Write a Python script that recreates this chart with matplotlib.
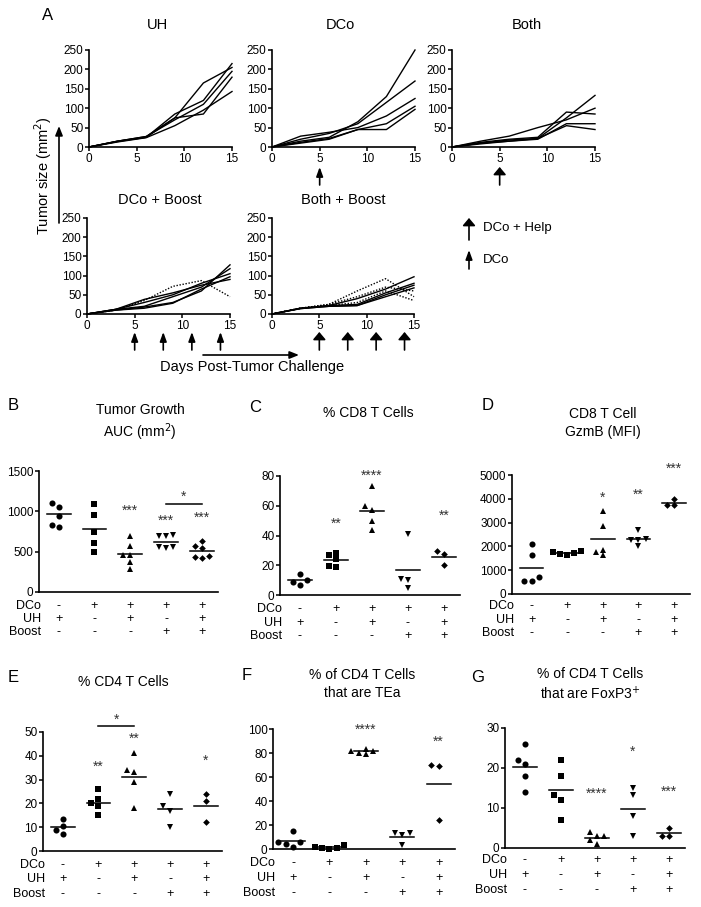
import matplotlib
matplotlib.use('Agg')
import matplotlib.pyplot as plt
from matplotlib.patches import FancyArrowPatch

plt.rcParams['font.family'] = ['Liberation Sans', 'DejaVu Sans']
plt.rcParams['axes.linewidth'] = 1.2

# ---- panel A: tumor growth curves ----
days = [0, 3, 6, 9, 12, 15]
uh_curves = [
    [0, 15, 27, 75, 165, 205],
    [0, 15, 25, 85, 120, 215],
    [0, 15, 27, 70, 110, 195],
    [0, 14, 25, 75, 85, 180],
    [0, 13, 24, 55, 95, 143],
]
dco_curves = [
    [0, 15, 25, 65, 130, 250],
    [0, 20, 35, 60, 115, 170],
    [0, 28, 38, 50, 80, 125],
    [0, 10, 20, 45, 60, 105],
    [0, 12, 22, 45, 45, 97],
]
both_curves = [
    [0, 15, 28, 50, 70, 100],
    [0, 12, 20, 25, 90, 85],
    [0, 10, 18, 22, 75, 133],
    [0, 10, 15, 20, 60, 60],
    [0, 8, 15, 22, 55, 45],
]
dco_boost_solid = [
    [0, 12, 38, 55, 75, 90],
    [0, 12, 30, 50, 80, 105],
    [0, 10, 18, 30, 60, 128],
    [0, 10, 15, 28, 65, 97],
    [0, 12, 20, 45, 70, 118],
]
dco_boost_dotted = [
    [0, 10, 35, 72, 87, 45],
]
both_boost_solid = [
    [0, 15, 22, 40, 65, 97],
    [0, 15, 22, 25, 55, 80],
    [0, 14, 20, 22, 50, 75],
    [0, 14, 20, 22, 45, 68],
]
both_boost_dotted = [
    [0, 15, 25, 60, 92, 45],
    [0, 15, 25, 45, 70, 60],
    [0, 15, 22, 30, 60, 35],
]
dco_days = [5]
both_days = [5]
dco_boost_days = [5, 8, 11, 14]
both_boost_days = [5, 8, 11, 14]

# ---- panels B-G: scatter data ----
dco_row = ['-', '+', '+', '+', '+']
uh_row = ['+', '-', '+', '-', '+']
boost_row = ['-', '-', '-', '+', '+']

auc = [[1100, 1050, 940, 800, 830],
       [1090, 960, 750, 610, 500],
       [700, 565, 460, 460, 370, 280],
       [710, 690, 690, 560, 540, 560],
       [570, 545, 630, 435, 420, 450]]
auc_means = [965, 782, 472, 625, 508]
auc_stars = [None, None, ('***', 1012), ('***', 888), ('***', 917)]

cd8 = [[10, 14, 7, 8.5],
       [27, 28.5, 24, 19, 19.5],
       [73, 60, 57, 50, 44],
       [41, 11, 10, 5],
       [29.5, 27.5, 20.5]]
cd8_means = [9.9, 23.6, 56.8, 16.8, 25.8]
cd8_stars = [None, ('**', 47.6), ('****', 80), None, ('**', 53)]

gzmb = [[2100, 1620, 700, 550, 560],
        [1820, 1720, 1650, 1700, 1760],
        [3480, 2860, 1850, 1620, 1780],
        [2680, 2300, 2280, 2280, 2020],
        [3990, 3760, 3760]]
gzmb_means = [1106, 1730, 2318, 2312, 3837]
gzmb_stars = [None, None, ('*', 4060), ('**', 4160), ('***', 5280)]

cd4 = [[13.3, 10.5, 9, 7],
       [26, 22, 20, 19, 15],
       [41, 34, 33, 29, 18],
       [24, 19, 17, 10],
       [24, 21, 12]]
cd4_means = [10, 20.3, 31, 17.5, 19]
cd4_stars = [None, ('**', 35.3), ('**', 47.2), None, ('*', 38)]

tea = [[15, 5.5, 5.5, 4, 1.5],
       [3.3, 0.5, 0.3, 2, 1],
       [83.5, 82, 79, 82, 80],
       [13, 11.5, 13, 3],
       [70, 69, 24]]
tea_means = [6.3, 1.4, 81.3, 10, 54.3]
tea_stars = [None, None, ('****', 99.4), None, ('**', 89)]

foxp3 = [[26, 22, 21, 18, 14],
         [22, 18, 13.3, 12, 7],
         [4, 3, 3, 2, 1],
         [15, 13.2, 8, 3],
         [5, 3, 3]]
foxp3_means = [20.2, 14.5, 2.6, 9.8, 3.7]
foxp3_stars = [None, None, ('****', 13.5), ('*', 24), ('***', 14)]

markers = ['o', 's', '^', 'v', 'D']
msizes = [4.4, 4.0, 5.0, 5.0, 3.4]

W, H = 701, 907
fig = plt.figure(figsize=(W / 100, H / 100), dpi=100)


def px_axes(l, t, r, b):
    return fig.add_axes([l / W, 1 - b / H, (r - l) / W, (b - t) / H])


def ftext(x, y, s, **kw):
    fig.text(x / W, 1 - y / H, s, **kw)


def style(ax):
    ax.spines['top'].set_visible(False)
    ax.spines['right'].set_visible(False)
    ax.tick_params(direction='out', length=3, width=1.1, labelsize=8.5, pad=1)


def arrow_under(ax, xs, y0, y1, help_style):
    if help_style:
        st = '-|>,head_length=0.45,head_width=0.38'
    else:
        st = '-|>,head_length=0.55,head_width=0.2'
    for d in xs:
        ax.annotate('', xy=(d, H - y1), xytext=(d, H - y0),
                    xycoords=('data', 'figure pixels'),
                    textcoords=('data', 'figure pixels'),
                    arrowprops=dict(arrowstyle=st, color='k', lw=1.2,
                                    shrinkA=0, shrinkB=0, mutation_scale=10),
                    annotation_clip=False)


def growth(box, solid, dotted, title, tx, ty):
    ax = px_axes(*box)
    for c in solid:
        ax.plot(days, c, color='k', lw=1.0, clip_on=False)
    for c in dotted:
        ax.plot(days, c, color='k', lw=1.0, ls=(0, (1, 1.2)), clip_on=False)
    ax.set_xlim(0, 15)
    ax.set_ylim(0, 250)
    ax.set_xticks([0, 5, 10, 15])
    ax.set_yticks([0, 50, 100, 150, 200, 250])
    style(ax)
    ftext(tx, ty, title, ha='center', va='center', fontsize=10.5)
    return ax


growth((89, 50, 232, 147), uh_curves, [], 'UH', 158, 25)
ax_dco = growth((272, 50, 415, 147), dco_curves, [], 'DCo', 340, 25)
ax_both = growth((452, 50, 595, 147), both_curves, [], 'Both', 527, 25)
ax_db = growth((87, 218, 230, 314), dco_boost_solid, dco_boost_dotted, 'DCo + Boost', 160, 200)
ax_bb = growth((272, 218, 414, 314), both_boost_solid, both_boost_dotted, 'Both + Boost', 343, 200)

arrow_under(ax_dco, dco_days, 185, 167, False)
arrow_under(ax_both, both_days, 185, 167, True)
arrow_under(ax_db, dco_boost_days, 350, 332, False)
arrow_under(ax_bb, both_boost_days, 350, 332, True)

ftext(48, 15, 'A', ha='center', va='center', fontsize=12)
ftext(43, 176, 'Tumor size (mm$^2$)', rotation=90, ha='center', va='center', fontsize=10.5)
ftext(252, 367, 'Days Post-Tumor Challenge', ha='center', va='center', fontsize=10.5)


def fig_arrow(x0, y0, x1, y1, st):
    fig.add_artist(FancyArrowPatch((x0 / W, 1 - y0 / H), (x1 / W, 1 - y1 / H),
                                   transform=fig.transFigure, arrowstyle=st,
                                   color='k', lw=1.2, mutation_scale=10,
                                   shrinkA=0, shrinkB=0))


fig_arrow(59, 223, 59, 126, '-|>,head_length=0.55,head_width=0.22')
fig_arrow(203, 355, 299, 355, '-|>,head_length=0.55,head_width=0.22')
fig_arrow(469, 240, 469, 218, '-|>,head_length=0.45,head_width=0.38')
fig_arrow(469, 269, 469, 250, '-|>,head_length=0.55,head_width=0.2')
ftext(483, 228, 'DCo + Help', ha='left', va='center', fontsize=9.5)
ftext(483, 260, 'DCo', ha='left', va='center', fontsize=9.5)


def spread(vals, span, step=0.2, thr=0.045):
    order = sorted(range(len(vals)), key=lambda k: vals[k])
    xs = [0.0] * len(vals)
    placed = []
    for k in order:
        near = [xs[j] for j in placed if abs(vals[j] - vals[k]) < thr * span]
        for off in [0, -step, step, -2 * step, 2 * step]:
            if all(abs(off - o) > step * 0.9 for o in near):
                xs[k] = off
                break
        placed.append(k)
    return xs


def dotplot(box, groups, means, stars, ymax, yticks, letter, lpos, title, tpos, rows_y):
    l, t, r, b = box
    ax = px_axes(*box)
    for i, vals in enumerate(groups):
        offs = spread(vals, ymax)
        ax.plot([i + o for o in offs], vals, ls='none', marker=markers[i],
                ms=msizes[i], mew=0, color='k', clip_on=False)
        ax.plot([i - 0.33, i + 0.33], [means[i], means[i]], color='k', lw=1.1)
        if stars[i]:
            ax.text(i, stars[i][1], stars[i][0], ha='center', va='center',
                    fontsize=10, color='#333333', clip_on=False)
    ax.set_xlim(-0.55, 4.45)
    ax.set_ylim(0, ymax)
    ax.set_yticks(yticks)
    ax.set_xticks([])
    style(ax)
    for row, lab, yy in zip([dco_row, uh_row, boost_row], ['DCo', 'UH', 'Boost'], rows_y):
        ftext(l + 2, yy, lab, ha='right', va='center', fontsize=9)
        for i, s in enumerate(row):
            ax.annotate(s, xy=(i, H - yy), xycoords=('data', 'figure pixels'),
                        ha='center', va='center', fontsize=9, annotation_clip=False)
    ftext(lpos[0], lpos[1], letter, ha='center', va='center', fontsize=12)
    ftext(tpos[0], tpos[1], title, ha='center', va='center', fontsize=10, linespacing=1.3)
    return ax


ax_b = dotplot((39, 471, 218, 592), auc, auc_means, auc_stars, 1500, [0, 500, 1000, 1500],
               'B', (13, 405), 'Tumor Growth\nAUC (mm$^2$)', (140, 423), (606, 619, 632))
ax_b.plot([3, 4], [1087, 1087], color='k', lw=1.1)
ax_b.text(3.5, 1178, '*', ha='center', va='center', fontsize=10, color='#333333')

dotplot((280, 476, 460, 595), cd8, cd8_means, cd8_stars, 80, [0, 20, 40, 60, 80],
        'C', (255, 407), '% CD8 T Cells', (368, 413), (609, 623, 636))
dotplot((512, 475, 690, 594), gzmb, gzmb_means, gzmb_stars, 5000,
        [0, 1000, 2000, 3000, 4000, 5000],
        'D', (488, 405), 'CD8 T Cell\nGzmB (MFI)', (603, 423), (606, 620, 633))
ax_e = dotplot((43, 732, 222, 851), cd4, cd4_means, cd4_stars, 50, [0, 10, 20, 30, 40, 50],
               'E', (13, 677), '% CD4 T Cells', (123, 682), (865, 879, 894))
ax_e.plot([1, 2], [52.4, 52.4], color='k', lw=1.1, clip_on=False)
ax_e.text(1.5, 55, '*', ha='center', va='center', fontsize=10, color='#333333', clip_on=False)
dotplot((273, 729, 455, 849), tea, tea_means, tea_stars, 100, [0, 20, 40, 60, 80, 100],
        'F', (247, 675), '% of CD4 T Cells\nthat are TEa', (362, 684), (863, 878, 893))
dotplot((505, 728, 685, 848), foxp3, foxp3_means, foxp3_stars, 30, [0, 10, 20, 30],
        'G', (478, 677), '% of CD4 T Cells\nthat are FoxP3$^{+}$', (590, 685), (860, 875, 890))

fig.savefig('out.png', dpi=100)
